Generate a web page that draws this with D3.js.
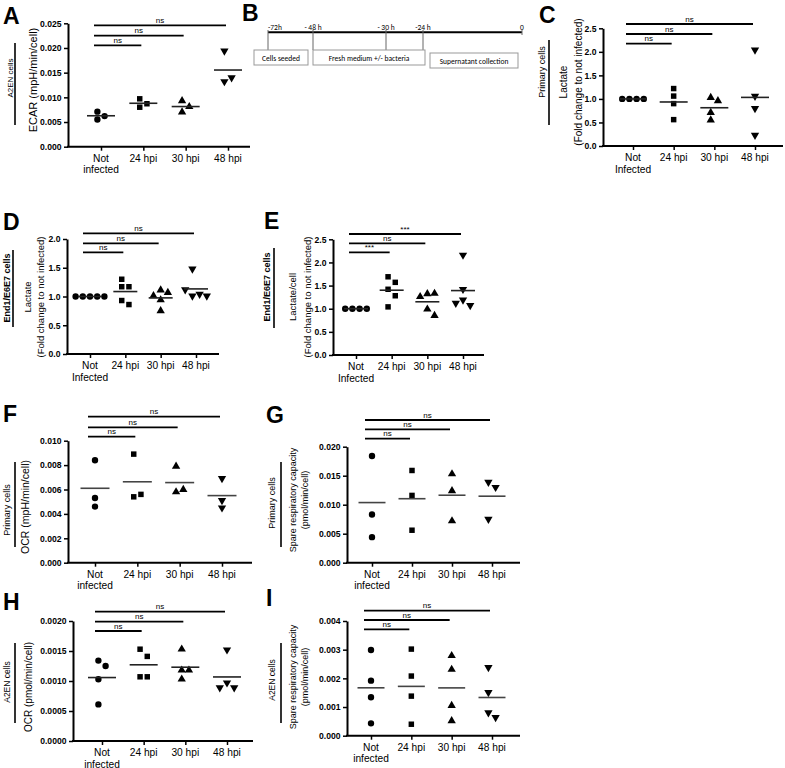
<!DOCTYPE html>
<html><head><meta charset="utf-8">
<script src="https://cdn.jsdelivr.net/npm/d3@7"></script>
<style>
body{margin:0;background:#fff;}
svg{display:block;font-family:Arial,"Liberation Sans",Helvetica,sans-serif;}
</style></head><body>
<svg id="fig" width="785" height="768"></svg>
<script>
// ---------- DATA ----------
const categories = ["Not infected","24 hpi","30 hpi","48 hpi"];
// A: ECAR A2EN
const aNot=[0.0071,0.0062,0.0055], a24=[0.0097,0.0080,0.0087], a30=[0.0093,0.0081,0.0070], a48=[0.0194,0.0132,0.0140];
// C: Lactate primary cells
const cNot=[1,1,1,1], c24=[1.22,1.06,0.90,0.56], c30=[1.03,0.96,0.71,0.55], c48=[2.04,1.06,0.80,0.23];
// D: Lactate End1/E6E7
const dNot=[1,1,1,1,1], d24=[1.30,1.17,1.17,0.93,0.86], d30=[1.11,1.07,1.01,0.94,0.75], d48=[1.48,1.01,1.04,1.12,1.01];
// E: Lactate/cell End1/E6E7
const eNot=[1,1,1,1], e24=[1.69,1.57,1.42,1.28,1.04], e30=[1.32,1.33,1.26,0.99,0.85], e48=[2.16,1.42,1.19,1.07,1.12];
// F: OCR primary cells
const fNot=[0.0084,0.0053,0.0046], f24=[0.0089,0.0054,0.0056], f30=[0.0079,0.0058,0.0060], f48=[0.0069,0.0051,0.0045];
// G: Spare respiratory capacity primary cells
const gNot=[0.0184,0.0083,0.0044], g24=[0.0159,0.0116,0.0056], g30=[0.0153,0.0124,0.0072], g48=[0.0139,0.0130,0.0075];
// H: OCR A2EN
const hNot=[0.00134,0.00125,0.00103,0.00061], h24=[0.00153,0.00141,0.00107,0.00107], h30=[0.00153,0.00118,0.00118,0.00103], h48=[0.00152,0.00097,0.00089,0.00089];
// I: Spare respiratory capacity A2EN
const iNot=[0.00299,0.00192,0.00134,0.00043], i24=[0.00302,0.00208,0.00138,0.00040], i30=[0.00279,0.00231,0.00105,0.00052], i48=[0.00238,0.00151,0.00080,0.00064];
// significance labels (Not vs 24, 30, 48)
const sigA=["ns","ns","ns"], sigC=["ns","ns","ns"], sigD=["ns","ns","ns"], sigE=["***","ns","***"];
const sigF=["ns","ns","ns"], sigG=["ns","ns","ns"], sigH=["ns","ns","ns"], sigI=["ns","ns","ns"];
// timeline (B)
const timePoints=[-72,-48,-30,-24,0];
const timeLabels=["-72h","- 48 h","- 30 h","-24 h","0"];
const steps=[{label:"Cells seeded",from:-72,to:-48},{label:"Fresh medium +/- bacteria",from:-48,to:-24},{label:"Supernatant collection",from:-24,to:0}];

// ---------- DRAW ----------
const svg=d3.select("#fig");
const symbols=[d3.symbolCircle,d3.symbolSquare,d3.symbolTriangle,d3.symbolTriangle];

function vtext(x,cy,str,size,weight){
  svg.append("text").attr("transform",`translate(${x},${cy}) rotate(-90)`)
    .attr("text-anchor","middle").attr("dy","0.35em")
    .attr("font-size",size).attr("font-weight",weight||"normal").attr("fill","#000").text(str);
}
function letter(ch,x,y){
  svg.append("text").attr("x",x).attr("y",y).attr("font-size",23).attr("font-weight","bold").text(ch);
}

function panel(cfg){
  const g=svg.append("g");
  const y=d3.scaleLinear().domain([0,cfg.yMax]).range([cfg.bot,cfg.top]);
  const x=d3.scalePoint().domain(categories).range([cfg.c0,cfg.c3]);
  const ticks=d3.range(0,cfg.yMax+cfg.step/2,cfg.step);
  const ya=g.append("g").attr("transform",`translate(${cfg.axX},0)`)
    .call(d3.axisLeft(y).tickValues(ticks).tickFormat(d3.format(cfg.fmt)).tickSize(4).tickSizeOuter(0).tickPadding(2.5));
  ya.select(".domain").attr("stroke","#000").attr("stroke-width",2);
  ya.selectAll(".tick line").attr("stroke","#000").attr("stroke-width",1.5);
  ya.selectAll(".tick text").attr("font-size",8.6).attr("font-weight","bold").attr("fill","#000")
    .attr("font-family","Arial,'Liberation Sans',sans-serif");
  // x baseline
  g.append("line").attr("x1",cfg.axX-1).attr("x2",cfg.xEnd).attr("y1",y(0)).attr("y2",y(0))
    .attr("stroke","#000").attr("stroke-width",2);
  const xa=g.append("g").attr("transform",`translate(0,${y(0)})`)
    .call(d3.axisBottom(x).tickSize(4).tickFormat("").tickSizeOuter(0));
  xa.select(".domain").remove();
  xa.selectAll(".tick line").attr("stroke","#000").attr("stroke-width",1.5);
  // x labels
  categories.forEach((c,i)=>{
    const t=g.append("text").attr("x",x(c)).attr("y",y(0)+15).attr("text-anchor","middle")
      .attr("font-size",10.2).attr("fill","#000");
    if(i===0){
      t.append("tspan").attr("x",x(c)).text("Not");
      t.append("tspan").attr("x",x(c)).attr("dy",11.5).text(cfg.notLabel);
    } else t.text(c);
  });
  // data
  const d=7.2;
  cfg.groups.forEach((vals,gi)=>{
    const cx=x(categories[gi]);
    const placed=[];
    vals.forEach(v=>{
      const py=y(v);
      const offs=[0,d,-d,2*d,-2*d,3*d,-3*d];
      let chosen=0;
      for(const o of offs){
        if(placed.every(p=>Math.abs(p.o-o)>=d*0.95||Math.abs(p.y-py)>=d)){chosen=o;break;}
      }
      placed.push({o:chosen,y:py,v:v});
    });
    const mn=d3.min(placed,p=>p.o), mx=d3.max(placed,p=>p.o), shift=-(mn+mx)/2;
    const sym=d3.symbol().type(symbols[gi]).size(gi===1?30:(gi===0?32:30));
    g.selectAll(null).data(placed).join("path")
      .attr("d",sym)
      .attr("transform",p=>`translate(${cx+p.o+shift},${p.y})`+(gi===3?" rotate(180)":""))
      .attr("fill","#000");
    const m=d3.mean(vals);
    g.append("line").attr("x1",cx-cfg.mw/2).attr("x2",cx+cfg.mw/2).attr("y1",y(m)).attr("y2",y(m))
      .attr("stroke",cfg.meanColor||"#222").attr("stroke-width",1.6);
  });
  // brackets
  cfg.bracketY.forEach((by,i)=>{
    const x1=x(categories[0])-7, x2=x(categories[i+1])-2;
    g.append("line").attr("x1",x1).attr("x2",x2).attr("y1",by).attr("y2",by)
      .attr("stroke","#000").attr("stroke-width",1.8);
    g.append("text").attr("x",(x1+x2)/2).attr("y",by-2.5).attr("text-anchor","middle")
      .attr("font-size",8).attr("fill","#000").text(cfg.sig[i]);
  });
  // y titles
  cfg.titles.forEach((t,i)=>vtext(cfg.titleX[i],cfg.titleCy,t,cfg.titleSize));
  // cell label and line
  vtext(cfg.cellX,cfg.cellCy,cfg.cell,cfg.cellSize,cfg.cellBold?"bold":"normal");
  svg.append("line").attr("x1",cfg.cellLineX).attr("x2",cfg.cellLineX).attr("y1",cfg.cellLine[0]).attr("y2",cfg.cellLine[1])
    .attr("stroke","#000").attr("stroke-width",1.6);
  letter(cfg.letter,cfg.lx,cfg.ly);
}

panel({letter:"A",lx:3,ly:24,axX:68,top:23.3,bot:146.7,xEnd:250,c0:101,c3:228,yMax:0.025,step:0.005,fmt:".3f",
  groups:[aNot,a24,a30,a48],mw:28,bracketY:[45.3,35.7,25.3],sig:sigA,notLabel:"infected",
  titles:["ECAR  (mpH/min/cell)"],titleX:[33],titleCy:80,titleSize:11,
  cell:"A2EN cells",cellX:10,cellCy:78,cellSize:8,cellLineX:15,cellLine:[43,125]});

panel({letter:"C",lx:539,ly:23,axX:603,top:28.3,bot:146,xEnd:783,c0:633,c3:755,yMax:2.5,step:0.5,fmt:".1f",
  groups:[cNot,c24,c30,c48],mw:28,bracketY:[43.7,34,24],sig:sigC,notLabel:"Infected",
  titles:["Lactate","(Fold change to not infected)"],titleX:[563,578],titleCy:82,titleSize:10,
  cell:"Primary cells",cellX:542,cellCy:72,cellSize:9,cellLineX:549,cellLine:[40,125]});

panel({letter:"D",lx:3,ly:230,axX:67,top:239,bot:354,xEnd:219,c0:90,c3:196,yMax:2.0,step:0.5,fmt:".1f",
  groups:[dNot,d24,d30,d48],mw:24,bracketY:[252.3,243.3,233.3],sig:sigD,notLabel:"Infected",
  titles:["Lactate","(Fold change to not infected)"],titleX:[28,41],titleCy:297,titleSize:9.5,
  cell:"End1/E6E7 cells",cellX:7,cellCy:288,cellSize:9,cellBold:true,cellLineX:13,cellLine:[250,327]});

panel({letter:"E",lx:264,ly:229,axX:333,top:239.3,bot:355,xEnd:484,c0:356,c3:463,yMax:2.5,step:0.5,fmt:".1f",
  groups:[eNot,e24,e30,e48],mw:24,bracketY:[252.3,243.3,234],sig:sigE,notLabel:"Infected",
  titles:["Lactate/cell","(Fold change to not infected)"],titleX:[293,308],titleCy:297,titleSize:9.5,
  cell:"End1/E6E7 cells",cellX:267,cellCy:287,cellSize:9,cellBold:true,cellLineX:274,cellLine:[248,328]});

panel({letter:"F",lx:3,ly:422,axX:68,top:440.7,bot:562.7,xEnd:252,c0:95,c3:222,yMax:0.010,step:0.002,fmt:".3f",
  groups:[fNot,f24,f30,f48],mw:29,bracketY:[436.7,427.3,416.7],sig:sigF,notLabel:"infected",meanColor:"#444",
  titles:["OCR  (mpH/min/cell)"],titleX:[25],titleCy:507,titleSize:10.5,
  cell:"Primary cells",cellX:7,cellCy:510,cellSize:9,cellLineX:15,cellLine:[462,547]});

panel({letter:"G",lx:266,ly:423,axX:347,top:446.7,bot:562.7,xEnd:520,c0:372,c3:492,yMax:0.020,step:0.005,fmt:".3f",
  groups:[gNot,g24,g30,g48],mw:27,bracketY:[438.7,429.3,420],sig:sigG,notLabel:"infected",meanColor:"#444",
  titles:["Spare respiratory capacity","(pmol/min/cell)"],titleX:[293,305],titleCy:500,titleSize:9,
  cell:"Primary cells",cellX:272,cellCy:503,cellSize:9,cellLineX:281,cellLine:[462,547]});

panel({letter:"H",lx:3,ly:610,axX:73,top:621,bot:741,xEnd:253,c0:102,c3:227,yMax:0.002,step:0.0005,fmt:".4f",
  groups:[hNot,h24,h30,h48],mw:28,bracketY:[631,621.7,611.7],sig:sigH,notLabel:"infected",
  titles:["OCR (pmol/min/cell)"],titleX:[28],titleCy:687,titleSize:10,
  cell:"A2EN cells",cellX:7,cellCy:682,cellSize:8.5,cellLineX:15,cellLine:[643,723]});

panel({letter:"I",lx:266,ly:606,axX:347,top:621,bot:735.7,xEnd:520,c0:371,c3:492,yMax:0.004,step:0.001,fmt:".3f",
  groups:[iNot,i24,i30,i48],mw:27,bracketY:[629.3,620,610.7],sig:sigI,notLabel:"infected",meanColor:"#444",
  titles:["Spare respiratory capacity","(pmol/min/cell)"],titleX:[293,305],titleCy:677,titleSize:9,
  cell:"A2EN cells",cellX:272,cellCy:680,cellSize:8.5,cellLineX:281,cellLine:[643,723]});

// ---------- B: timeline ----------
letter("B",242,21);
const tScale=d3.scaleLinear().domain(timePoints).range([268,313,386,423,522]);
const gb=svg.append("g").attr("font-family","Calibri,Carlito,'Liberation Sans',Arial,sans-serif");
gb.append("line").attr("x1",tScale(-72)).attr("x2",tScale(0)).attr("y1",32.3).attr("y2",32.3)
  .attr("stroke","#000").attr("stroke-width",2);
timePoints.forEach((t,i)=>{
  gb.append("line").attr("x1",tScale(t)).attr("x2",tScale(t)).attr("y1",30).attr("y2",t===0?35:50)
    .attr("stroke","#666").attr("stroke-width",1);
  gb.append("text").attr("x",tScale(t)).attr("y",29.5).attr("text-anchor",i===0?"start":"middle")
    .attr("font-size",7.5).attr("fill","#000").text(timeLabels[i]);
});
const boxOff=[[-14,-5,50],[0,2,50],[7,-4,53]];
steps.forEach((s,i)=>{
  const x1=tScale(s.from)+boxOff[i][0], x2=tScale(s.to)+boxOff[i][1], yy=boxOff[i][2];
  gb.append("rect").attr("x",x1).attr("y",yy).attr("width",x2-x1).attr("height",15)
    .attr("fill","#fff").attr("stroke","#999").attr("stroke-width",1);
  gb.append("text").attr("x",(x1+x2)/2).attr("y",yy+10.5).attr("text-anchor","middle")
    .attr("font-size",7.5).attr("fill","#000").text(s.label);
});
</script>
</body></html>
